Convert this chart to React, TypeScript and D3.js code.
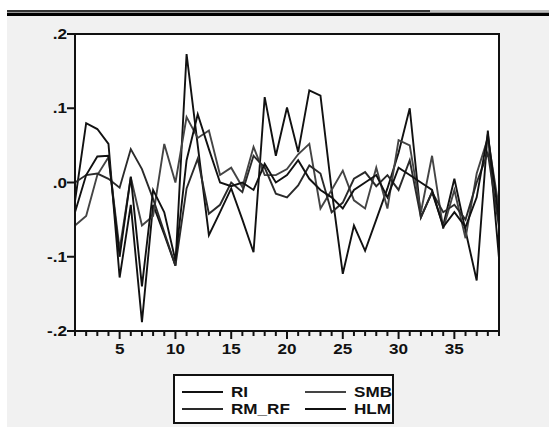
import React from "react";
import * as d3 from "d3";

const W = 549;
const H = 427;
const PLOT = { left: 75, right: 499, top: 34, bottom: 331 };

// series, observation 1..39
const RI = [
  -0.025, 0.08, 0.072, 0.052, -0.128, -0.03, -0.188, -0.03, -0.07, -0.112,
  0.173, 0.05, -0.071, -0.04, -0.008, -0.05, -0.094, 0.115, 0.036, 0.101,
  0.041, 0.124, 0.117, -0.01, -0.123, -0.058, -0.092, -0.05, -0.008, 0.04,
  0.1, -0.047, -0.013, -0.058, 0.005, -0.065, -0.132, 0.07, -0.102,
];
const SMB = [
  -0.058, -0.045, 0.01, 0.034, -0.09, 0.007, -0.058, -0.045, 0.052, 0.0,
  0.088, 0.06, 0.07, 0.01, 0.02, -0.006, 0.048, 0.01, 0.01, 0.018,
  0.038, 0.052, -0.035, -0.01, 0.016, -0.024, -0.035, 0.02, -0.035, 0.057,
  0.05, -0.04, 0.036, -0.062, -0.01, -0.075, 0.012, 0.06, -0.035,
];
const RM_RF = [
  0.0, 0.01, 0.012, 0.005, -0.007, 0.045, 0.018, -0.022, -0.067, -0.112,
  -0.008, 0.032, -0.042, -0.03, 0.0, -0.013, 0.036, 0.02, -0.015, -0.02,
  -0.004, 0.023, 0.012, -0.04, -0.027, 0.005, 0.014, -0.005, 0.01, -0.01,
  0.03, -0.047, -0.013, -0.04, -0.03, -0.05, 0.0, 0.04, -0.06,
];
const HLM = [
  -0.04, 0.01, 0.035, 0.036, -0.1, 0.008, -0.14, -0.01, -0.04, -0.105,
  0.03, 0.092, 0.045, 0.0, -0.005, 0.0, -0.01, 0.025, 0.0, 0.01,
  0.03, 0.005, -0.01, -0.02, -0.035, -0.01, 0.0, 0.01, -0.02, 0.02,
  0.01, 0.0, -0.01, -0.06, -0.04, -0.06, -0.02, 0.065, -0.05,
];

const Y_TICKS = [0.2, 0.1, 0.0, -0.1, -0.2];
const Y_LABELS = [".2", ".1", ".0", "-.1", "-.2"];
const X_LABELS = [5, 10, 15, 20, 25, 30, 35];

const SERIES = [
  { name: "RI", values: RI, color: "#111" },
  { name: "SMB", values: SMB, color: "#444" },
  { name: "RM_RF", values: RM_RF, color: "#2a2a2a" },
  { name: "HLM", values: HLM, color: "#111" },
];

const FONT = "'Liberation Sans', Arial, sans-serif";

const Label = ({ x, y, anchor, children }: any) => (
  <text
    transform={`translate(${x},${y}) scale(1.18,1)`}
    textAnchor={anchor}
    dominantBaseline="central"
    fontFamily={FONT}
    fontWeight="bold"
    fontSize={14.5}
    fill="#111"
  >
    {children}
  </text>
);

export default function App() {
  const x = d3.scaleLinear().domain([1, 39]).range([PLOT.left, PLOT.right]);
  const y = d3.scaleLinear().domain([-0.2, 0.2]).range([PLOT.bottom, PLOT.top]);
  const line = d3
    .line<number>()
    .x((_, i) => x(i + 1))
    .y((d) => y(d));

  const xTicks = d3.range(1, 40);

  return (
    <svg
      width={W}
      height={H}
      style={{ position: "absolute", left: 0, top: 0 }}
    >
      <rect x={0} y={0} width={W} height={H} fill="#fff" />
      <rect x={7} y={16} width={W - 7} height={H - 16} fill="#f1f1f1" />
      {/* window strip at the top */}
      <rect x={7} y={10} width={423} height={2} fill="#333" />
      <rect x={430} y={10} width={W - 430} height={2} fill="#bbb" />
      <rect x={7} y={12} width={W - 7} height={1} fill="#999" />
      <rect x={7} y={13} width={W - 7} height={3} fill="#000" />

      <rect
        x={PLOT.left}
        y={PLOT.top}
        width={PLOT.right - PLOT.left}
        height={PLOT.bottom - PLOT.top}
        fill="#fff"
      />

      <g fill="none" strokeLinejoin="miter" strokeWidth={1.9}>
        {SERIES.map((s) => (
          <path key={s.name} d={line(s.values) || ""} stroke={s.color} />
        ))}
      </g>

      <rect
        x={PLOT.left}
        y={PLOT.top}
        width={PLOT.right - PLOT.left}
        height={PLOT.bottom - PLOT.top}
        fill="none"
        stroke="#111"
        strokeWidth={2}
      />

      {/* y axis */}
      {Y_TICKS.map((t, i) => (
        <g key={t}>
          <line
            x1={PLOT.left - 8}
            x2={PLOT.left}
            y1={y(t)}
            y2={y(t)}
            stroke="#111"
            strokeWidth={2}
          />
          <Label x={PLOT.left - 8} y={y(t)} anchor="end">
            {Y_LABELS[i]}
          </Label>
        </g>
      ))}

      {/* x axis */}
      {xTicks.map((t) => (
        <line
          key={t}
          x1={x(t)}
          x2={x(t)}
          y1={PLOT.bottom}
          y2={PLOT.bottom + (t % 5 === 0 ? 8 : 5)}
          stroke="#111"
          strokeWidth={2}
        />
      ))}
      {X_LABELS.map((t) => (
        <Label key={t} x={x(t)} y={PLOT.bottom + 18} anchor="middle">
          {t}
        </Label>
      ))}

      {/* legend */}
      <rect x={174} y={375} width={219} height={48} fill="#fff" stroke="#111" strokeWidth={2} />
      {SERIES.map((s, i) => {
        const col = i % 2;
        const row = Math.floor(i / 2);
        const lx = col === 0 ? 182 : 305;
        const ly = row === 0 ? 392 : 409;
        return (
          <g key={s.name}>
            <line x1={lx} x2={lx + 41} y1={ly} y2={ly} stroke={s.color} strokeWidth={1.9} />
            <Label x={lx + 49} y={ly} anchor="start">
              {s.name}
            </Label>
          </g>
        );
      })}
    </svg>
  );
}
